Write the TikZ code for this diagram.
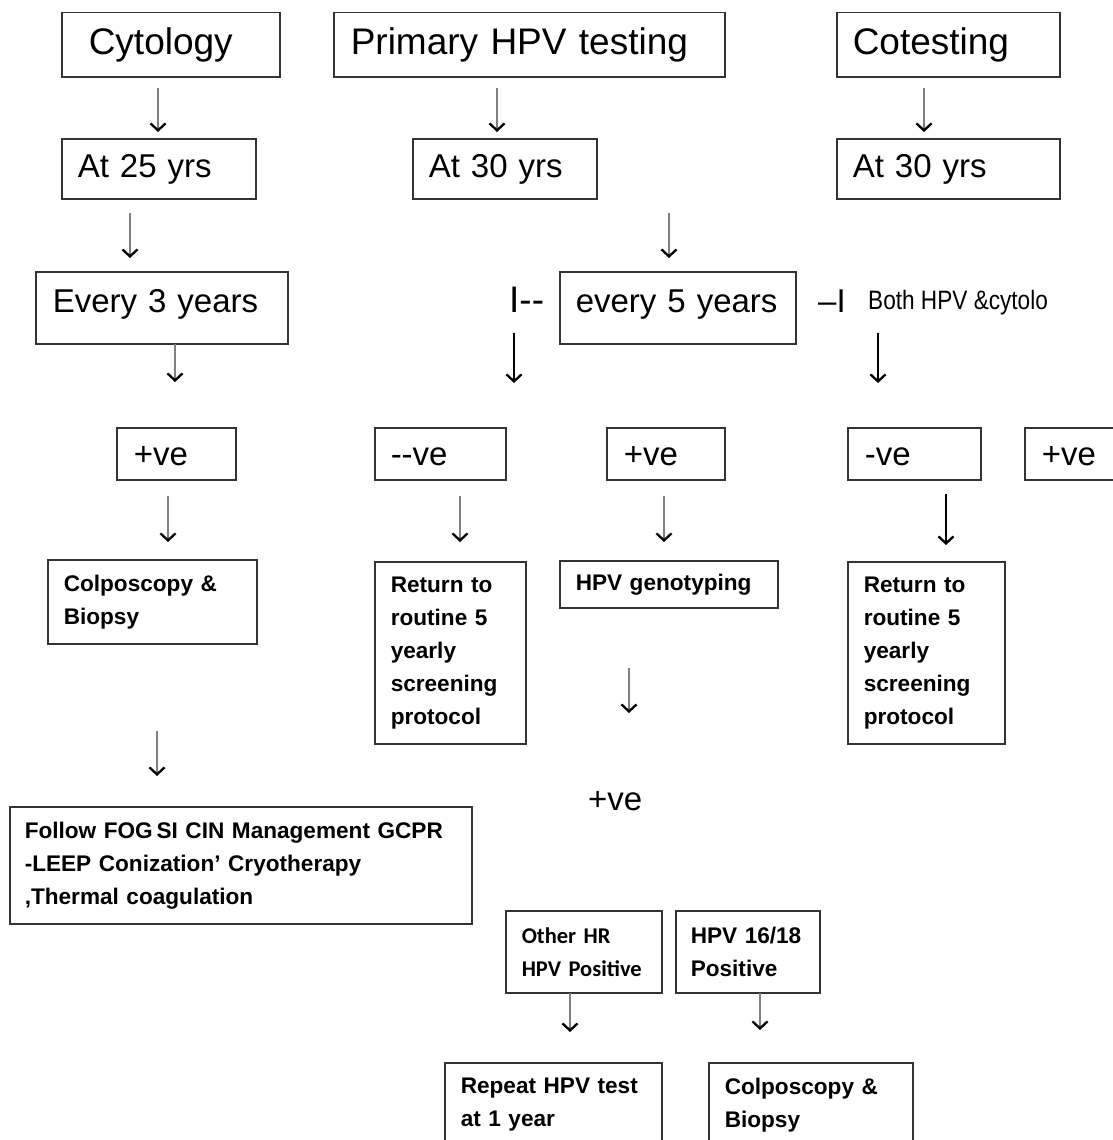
\documentclass[tikz,border=0pt]{standalone}
\usepackage{fontspec}
\setmainfont{Liberation Sans}
\newfontfamily\narrowsans{Liberation Sans}[FakeStretch=0.85]
\newfontfamily\carlito{Carlito}
\usetikzlibrary{arrows.meta}

\tikzset{
  box/.style={draw=black!80, line width=1.5pt, anchor=north west, align=left, inner ysep=0pt},
  big/.style={font=\fontsize{37}{44}\selectfont, text height=27pt, text depth=8pt},
  mid/.style={font=\fontsize{33}{40}\selectfont, text height=24pt, text depth=7pt},
  small/.style={font=\fontsize{22.6}{33}\selectfont\bfseries},
  calib/.style={font=\carlito\bfseries\fontsize{22.5}{33}\selectfont},
  flow/.style={draw=black!50, line width=1.8pt, -{Straight Barb[black,length=7pt,width=15pt,line width=2.3pt]}},
  heavyflow/.style={flow, draw=black, line width=2.4pt},
}

\begin{document}
\begin{tikzpicture}[x=1pt,y=-1pt]

\useasboundingbox (0,0) rectangle (1113,1140);
\clip (0,0) rectangle (1113,1140);

% screening methods
\node[box, big, text width=164pt, inner xsep=27pt, minimum height=64pt] (cytology) at (61,12) {Cytology};
\node[box, big, text width=357pt, inner xsep=17pt, minimum height=64pt] (primary) at (333,12) {Primary HPV testing};
\node[box, big, text width=191pt, inner xsep=16pt, minimum height=64pt] (cotesting) at (836,12) {Cotesting};

% starting age
\node[box, mid, text width=162pt, inner xsep=16pt, minimum height=60pt] (age25) at (61,138) {At 25 yrs};
\node[box, mid, text width=152pt, inner xsep=16pt, minimum height=60pt] (age30) at (412,138) {At 30 yrs};
\node[box, mid, text width=191pt, inner xsep=16pt, minimum height=60pt] (coage30) at (836,138) {At 30 yrs};

% intervals
\node[box, mid, text depth=14pt, text width=218pt, inner xsep=17pt, minimum height=72pt] (every3) at (35,271) {Every 3 years};
\node[box, mid, text depth=14pt, text width=204pt, inner xsep=16pt, minimum height=72pt] (every5) at (559,271) {every 5 years};

\node[mid, font=\fontsize{37}{40}\selectfont, anchor=base west, inner sep=0pt] (hpvbar) at (509,312) {I-{}-};
\node[mid, anchor=base west, inner sep=0pt] (cobar) at (818,312) {–I};
\node[font=\narrowsans\fontsize{26.6}{30}\selectfont, anchor=base west, inner sep=0pt] (bothnote) at (868,309) {Both HPV \&cytolo};

% results
\node[box, mid, text depth=0pt, text width=85pt, inner xsep=17pt, minimum height=52pt] (pos1) at (116,427) {+ve};
\node[box, mid, text depth=0pt, text width=99pt, inner xsep=16pt, minimum height=52pt] (neg2) at (374,427) {-{}-ve};
\node[box, mid, text depth=0pt, text width=84pt, inner xsep=17pt, minimum height=52pt] (pos2) at (606,427) {+ve};
\node[box, mid, text depth=0pt, text width=99pt, inner xsep=17pt, minimum height=52pt] (neg1) at (847,427) {-ve};
\node[box, mid, text depth=0pt, text width=84pt, inner xsep=17pt, minimum height=52pt] (pos3) at (1024,427) {+ve};

% management
\node[box, small, text width=177pt, inner xsep=16pt, minimum height=84pt] (colpo1) at (47,559) {Colposcopy \&\\Biopsy};
\node[box, small, text width=119pt, inner xsep=16pt, minimum height=182pt] (return1) at (374,561)
  {Return to\\routine 5\\yearly\\screening\\protocol};
\node[box, small, text height=17pt, text depth=5pt, text width=186pt, inner xsep=16pt, minimum height=47pt] (genotype) at (559,560) {HPV genotyping};
\node[box, small, text width=125pt, inner xsep=16pt, minimum height=182pt] (return2) at (847,561)
  {Return to\\routine 5\\yearly\\screening\\protocol};

\node[box, small, text width=432pt, inner xsep=15pt, minimum height=117pt] (follow) at (9,806)
  {Follow FOG\,SI CIN Management GCPR\\-LEEP Conization’ Cryotherapy\\,Thermal coagulation};

\node[mid, anchor=base west, inner sep=0pt] (posfree) at (588,810) {+ve};

% genotype results
\node[box, calib, text width=124pt, inner xsep=16pt, minimum height=82pt] (otherhr) at (505,910) {Other~HR\\HPV~Positive};
\node[box, small, text width=114pt, inner xsep=15pt, minimum height=82pt] (hpv1618) at (675,910) {HPV~16/18\\Positive};

\node[box, small, text width=185pt, inner xsep=16pt, minimum height=84pt] (repeat) at (444,1062) {Repeat HPV test\\at 1 year};
\node[box, small, text width=172pt, inner xsep=16pt, minimum height=84pt] (colpo2) at (708,1062) {Colposcopy \&\\Biopsy};

% arrow ends
\coordinate (c1a) at (158,88);  \coordinate (c1b) at (158,132);
\coordinate (c2a) at (497,88);  \coordinate (c2b) at (497,132);
\coordinate (c3a) at (924,88);  \coordinate (c3b) at (924,132);
\coordinate (c4a) at (130,213); \coordinate (c4b) at (130,258);
\coordinate (c5a) at (669,213); \coordinate (c5b) at (669,258);
\coordinate (c6a) at (175,344); \coordinate (c6b) at (175,382);
\coordinate (c7a) at (514,333); \coordinate (c7b) at (514,383);
\coordinate (c8a) at (878,333); \coordinate (c8b) at (878,383);
\coordinate (c9a) at (168,496); \coordinate (c9b) at (168,542);
\coordinate (c10a) at (460,496); \coordinate (c10b) at (460,542);
\coordinate (c11a) at (664,496); \coordinate (c11b) at (664,542);
\coordinate (c12a) at (946,494); \coordinate (c12b) at (946,545);
\coordinate (c13a) at (157,731); \coordinate (c13b) at (157,776);
\coordinate (c14a) at (629,668); \coordinate (c14b) at (629,713);
\coordinate (c15a) at (570,993); \coordinate (c15b) at (570,1032);
\coordinate (c16a) at (760,993); \coordinate (c16b) at (760,1030);

% arrows
\draw[flow] (c1a) -- (c1b);
\draw[flow] (c2a) -- (c2b);
\draw[flow] (c3a) -- (c3b);
\draw[flow] (c4a) -- (c4b);
\draw[flow] (c5a) -- (c5b);
\draw[flow] (c6a) -- (c6b);
\draw[heavyflow] (c7a) -- (c7b);
\draw[heavyflow] (c8a) -- (c8b);
\draw[flow] (c9a) -- (c9b);
\draw[flow] (c10a) -- (c10b);
\draw[flow] (c11a) -- (c11b);
\draw[heavyflow] (c12a) -- (c12b);
\draw[flow] (c13a) -- (c13b);
\draw[flow] (c14a) -- (c14b);
\draw[flow] (c15a) -- (c15b);
\draw[flow] (c16a) -- (c16b);

\end{tikzpicture}
\end{document}
